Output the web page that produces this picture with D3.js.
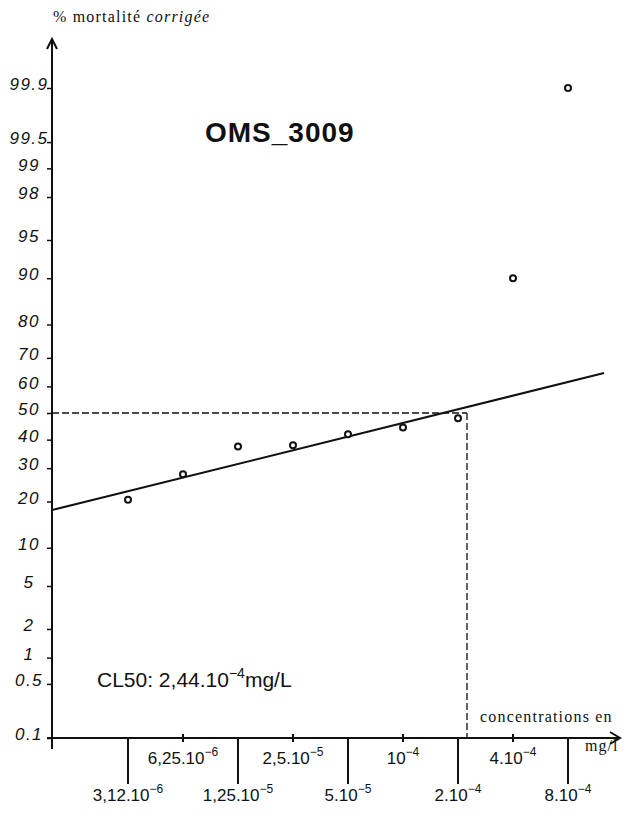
<!DOCTYPE html>
<html lang="fr">
<head>
<meta charset="UTF-8">
<title>OMS_3009</title>
<script src="https://cdnjs.cloudflare.com/ajax/libs/d3/7.8.5/d3.min.js"></script>
<style>
  html, body { margin: 0; padding: 0; background: #fff; }
  svg { display: block; }
  .hand { font-family: "Liberation Sans", Arial, sans-serif; font-style: italic; fill: #111; }
  .serif { font-family: "Liberation Serif", "DejaVu Serif", serif; fill: #111; }
</style>
</head>
<body>
<svg id="chart" width="628" height="816"></svg>
<script>
// axe des ordonnées (échelle probit)
const yTickValues = [0.1, 0.5, 1, 2, 5, 10, 20, 30, 40, 50, 60, 70, 80, 90, 95, 98, 99, 99.5, 99.9];
const yTickLabels = ['0.1', '0.5', '1', '2', '5', '10', '20', '30', '40', '50', '60', '70', '80', '90', '95', '98', '99', '99.5', '99.9'];

// axe des abscisses (concentrations, échelle log)
const concTicks = [3.125e-6, 6.25e-6, 1.25e-5, 2.5e-5, 5e-5, 1e-4, 2e-4, 4e-4, 8e-4];
const concMantissa = ['3,12', '6,25', '1,25', '2,5', '5', '', '2', '4', '8'];
const concExponent = ['−6', '−6', '−5', '−5', '−5', '−4', '−4', '−4', '−4'];

// observations
const obsConc = [3.125e-6, 6.25e-6, 1.25e-5, 2.5e-5, 5e-5, 1e-4, 2e-4, 4e-4, 8e-4];
const obsMortality = [20.5, 28, 37.5, 38, 42, 44.5, 48, 90, 99.9];

// droite de régression (extrémités)
const fitConc = [1.2e-6, 1.26e-3];
const fitMortality = [17.8, 64.8];

// repère CL50
const cl50Conc = 2.24e-4;
const cl50Mortality = 50;

// inverse de la loi normale (Acklam)
function probit(p) {
  const a = [-3.969683028665376e+01, 2.209460984245205e+02, -2.759285104469687e+02, 1.383577518672690e+02, -3.066479806614716e+01, 2.506628277459239e+00];
  const b = [-5.447609879822406e+01, 1.615858368580409e+02, -1.556989798598866e+02, 6.680131188771972e+01, -1.328068155288572e+01];
  const c = [-7.784894002430293e-03, -3.223964580411365e-01, -2.400758277161838e+00, -2.549732539343734e+00, 4.374664141464968e+00, 2.938163982698783e+00];
  const d = [7.784695709041462e-03, 3.224671290700398e-01, 2.445134137142996e+00, 3.754408661907416e+00];
  const plow = 0.02425;
  let q, r;
  if (p < plow) {
    q = Math.sqrt(-2 * Math.log(p));
    return (((((c[0]*q+c[1])*q+c[2])*q+c[3])*q+c[4])*q+c[5]) / ((((d[0]*q+d[1])*q+d[2])*q+d[3])*q+1);
  }
  if (p <= 1 - plow) {
    q = p - 0.5; r = q * q;
    return (((((a[0]*r+a[1])*r+a[2])*r+a[3])*r+a[4])*r+a[5])*q / (((((b[0]*r+b[1])*r+b[2])*r+b[3])*r+b[4])*r+1);
  }
  q = Math.sqrt(-2 * Math.log(1 - p));
  return -(((((c[0]*q+c[1])*q+c[2])*q+c[3])*q+c[4])*q+c[5]) / ((((d[0]*q+d[1])*q+d[2])*q+d[3])*q+1);
}
const pz = pct => probit(pct / 100);

const svg = d3.select('#chart');
const axisX0 = 52, axisY0 = 738;

const x = d3.scaleLog().base(2).domain([3.125e-6, 8e-4]).range([128, 568]);
const yz = d3.scaleLinear().domain([pz(0.1), pz(99.9)]).range([axisY0, 88]);
const y = pct => yz(pz(pct));

svg.append('rect').attr('width', 628).attr('height', 816).attr('fill', '#fff');

// titre de l'axe Y
const yTitle = svg.append('text').attr('class', 'serif')
  .attr('x', 53).attr('y', 22)
  .style('font-size', '16px').style('letter-spacing', '1.2px');
yTitle.append('tspan').text('% mortalité ');
yTitle.append('tspan').style('font-style', 'italic').text('corrigée');

// axe Y
const yAxis = d3.axisLeft(yz)
  .tickValues(yTickValues.map(pz))
  .tickSize(5)
  .tickFormat((d, i) => yTickLabels[i]);

const gy = svg.append('g').attr('transform', `translate(${axisX0},0)`).call(yAxis);
gy.select('.domain').remove();
gy.selectAll('.tick line').attr('stroke', '#111').attr('stroke-width', 1.5);
gy.selectAll('.tick text')
  .attr('class', 'hand')
  .attr('x', -23).attr('dy', '0.1em')
  .attr('text-anchor', 'middle')
  .style('font-size', '17px')
  .style('letter-spacing', '1.5px');

svg.append('line')
  .attr('x1', axisX0).attr('x2', axisX0).attr('y1', 39).attr('y2', 749)
  .attr('stroke', '#111').attr('stroke-width', 2);
svg.append('path')
  .attr('d', `M${axisX0 - 5},49 L${axisX0},39 L${axisX0 + 5},49`)
  .attr('fill', 'none').attr('stroke', '#111').attr('stroke-width', 2);

// axe X
svg.append('line')
  .attr('x1', 47).attr('x2', 620).attr('y1', axisY0).attr('y2', axisY0)
  .attr('stroke', '#111').attr('stroke-width', 2);
svg.append('path')
  .attr('d', `M610,732 L620,${axisY0} L610,744`)
  .attr('fill', 'none').attr('stroke', '#111').attr('stroke-width', 2);

const gx = svg.append('g');
const xt = gx.selectAll('g.xtick').data(concTicks).enter().append('g')
  .attr('class', 'xtick')
  .attr('transform', d => `translate(${x(d)},0)`);

xt.append('line')
  .attr('y1', (d, i) => i % 2 === 0 ? axisY0 : axisY0 - 4)
  .attr('y2', (d, i) => i % 2 === 0 ? axisY0 + 46 : axisY0 + 4)
  .attr('stroke', '#111').attr('stroke-width', 2);

const xl = xt.append('text')
  .attr('class', 'hand')
  .style('font-style', 'normal')
  .attr('text-anchor', 'middle')
  .attr('y', (d, i) => i % 2 === 0 ? 801 : 764)
  .style('font-size', '17px');
xl.append('tspan').text((d, i) => concMantissa[i] === '' ? '10' : concMantissa[i] + '.10');
xl.append('tspan').attr('dy', -8).style('font-size', '12px').text((d, i) => concExponent[i]);

// titre de l'axe X
svg.append('text').attr('class', 'serif')
  .attr('x', 480).attr('y', 722)
  .style('font-size', '16px').style('letter-spacing', '1.2px')
  .text('concentrations en');
svg.append('text').attr('class', 'serif')
  .attr('x', 585).attr('y', 751)
  .style('font-size', '16px').style('letter-spacing', '1px')
  .text('mg/l');

// repère CL50 (pointillés)
svg.append('line')
  .attr('x1', axisX0).attr('x2', x(cl50Conc))
  .attr('y1', y(cl50Mortality)).attr('y2', y(cl50Mortality))
  .attr('stroke', '#111').attr('stroke-width', 1.3).attr('stroke-dasharray', '7,3');
svg.append('line')
  .attr('x1', x(cl50Conc)).attr('x2', x(cl50Conc))
  .attr('y1', y(cl50Mortality)).attr('y2', axisY0)
  .attr('stroke', '#111').attr('stroke-width', 1.3).attr('stroke-dasharray', '7,3');

// droite de régression
const line = d3.line().x(d => x(d[0])).y(d => y(d[1]));
svg.append('path')
  .datum(d3.zip(fitConc, fitMortality))
  .attr('d', line)
  .attr('fill', 'none').attr('stroke', '#111').attr('stroke-width', 2);

// points observés
svg.selectAll('circle.obs').data(d3.zip(obsConc, obsMortality)).enter().append('circle')
  .attr('class', 'obs')
  .attr('cx', d => x(d[0])).attr('cy', d => y(d[1]))
  .attr('r', 3)
  .attr('fill', '#fff').attr('stroke', '#111').attr('stroke-width', 2);

// titre
svg.append('text')
  .attr('x', 205).attr('y', 142)
  .style('font-family', '"Liberation Sans", Arial, sans-serif')
  .style('font-weight', 'bold').style('font-size', '28px').style('letter-spacing', '1px')
  .attr('fill', '#111')
  .text('OMS_3009');

// CL50
const cl = svg.append('text').attr('class', 'hand')
  .style('font-style', 'normal')
  .attr('x', 97).attr('y', 687)
  .style('font-size', '21px');
cl.append('tspan').text('CL50: 2,44.10');
cl.append('tspan').attr('dy', -9).style('font-size', '14px').text('−4');
cl.append('tspan').attr('dy', 9).text('mg/L');
</script>
</body>
</html>
